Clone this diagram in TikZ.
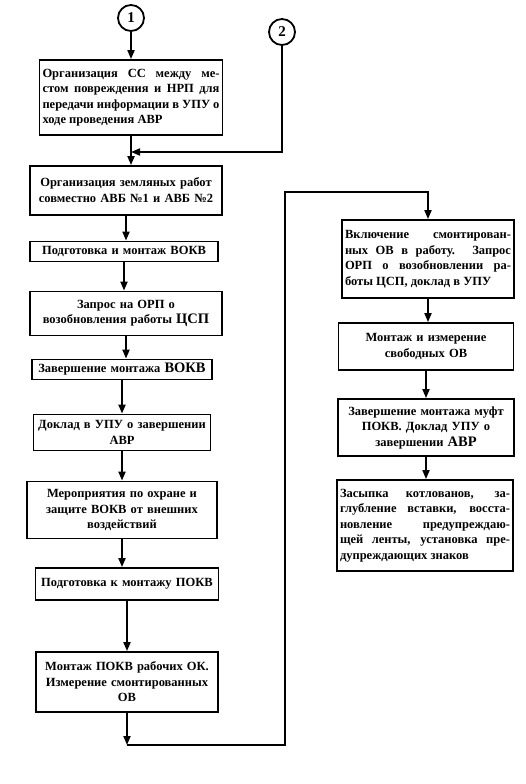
\documentclass[tikz,border=0pt]{standalone}
\usepackage{fontspec}
\setmainfont{Liberation Serif}
\usetikzlibrary{arrows.meta}
\newcommand{\bigw}[1]{{\fontsize{14.5}{15}\selectfont #1}}
\begin{document}
\begin{tikzpicture}[x=1pt,y=-1pt,
    blk/.style={draw,line width=1.8pt,inner sep=3pt,align=center,
        font=\bfseries\fontsize{12.5}{15.5}\selectfont},
    num/.style={draw,circle,line width=1.8pt,minimum size=26pt,inner sep=0pt,
        font=\bfseries\fontsize{15}{15}\selectfont},
    ln/.style={line width=1.8pt},
    arr/.style={line width=1.8pt,-{Triangle[width=7pt,length=9pt]}}]
    \useasboundingbox (0,0) rectangle (526,784);
    % left column
    \node [num] (c1) at(131,18) {1};
    \node [num] (c2) at(282,32) {2};
    \node [blk,text width=177pt,minimum height=75pt,align=justify] (b1) at(131,97.5) {Организация СС между ме-\linebreak стом повреждения и НРП для\linebreak передачи информации в УПУ о\linebreak ходе проведения АВР};
    \node [blk,text width=186pt,minimum height=49pt,text depth=16pt] (b2) at(126,190.5) {Организация земляных работ\\совместно АВБ №1 и АВБ №2};
    \node [blk,text width=182pt,minimum height=20pt] (b3) at(124,251.5) {Подготовка и монтаж ВОКВ};
    \node [blk,text width=186pt,minimum height=44pt] (b4) at(126,313.5) {Запрос на ОРП о\\возобновления работы \bigw{ЦСП}};
    \node [blk,text width=174pt,minimum height=20pt] (b5) at(122,369.5) {Завершение монтажа \bigw{ВОКВ}};
    \node [blk,text width=171pt,minimum height=36pt] (b6) at(122,432.5) {Доклад в УПУ о завершении\\АВР};
    \node [blk,text width=184pt,minimum height=57pt] (b7) at(122,510) {Мероприятия по охране и\\защите ВОКВ от внешних\\воздействий};
    \node [blk,text width=177pt,minimum height=32pt] (b8) at(127,584) {Подготовка к монтажу ПОКВ};
    \node [blk,text width=176pt,minimum height=60pt] (b9) at(127,682) {Монтаж ПОКВ рабочих ОК.\\Измерение смонтированных\\ОВ};
    % right column
    \node [blk,text width=166pt,minimum height=78pt,align=justify] (r1) at(428,259) {Включение смонтирован-\linebreak ных ОВ в работу. Запрос\linebreak ОРП о возобновлении ра-\linebreak боты ЦСП, доклад в УПУ};
    \node [blk,text width=169pt,minimum height=47pt] (r2) at(426,346.5) {Монтаж и измерение\\свободных ОВ};
    \node [blk,text width=170pt,minimum height=57pt] (r3) at(426,427.5) {Завершение монтажа муфт\\ПОКВ. Доклад УПУ о\\завершении \bigw{АВР}};
    \node [blk,text width=170pt,minimum height=91pt,align=justify] (r4) at(425,525.5) {Засыпка котлованов, за-\linebreak глубление вставки, восста-\linebreak новление предупреждаю-\linebreak щей ленты, установка пре-\linebreak дупреждающих знаков};
    \coordinate (j1) at(131,152);
    \coordinate (k1) at(127,745);
    \coordinate (k2) at(285,745);
    \coordinate (k3) at(285,192);
    % connectors
    \draw [arr] (c1) -- (b1);
    \draw [ln] (b1.south) -- (j1);
    \draw [arr] (c2.south) |- (j1);
    \draw [arr] (j1) -- (j1 |- b2.north);
    \draw [arr] (b2.south) -- (b2.south |- b3.north);
    \draw [arr] (b3.south) -- (b3.south |- b4.north);
    \draw [arr] (b4.south) -- (b4.south |- b5.north);
    \draw [arr] (b5.south) -- (b5.south |- b6.north);
    \draw [arr] (b6.south) -- (b6.south |- b7.north);
    \draw [arr] (b7.south) -- (b7.south |- b8.north);
    \draw [arr] (b8.south) -- (b8.south |- b9.north);
    \draw [arr] (b9.south) -- (k1);
    \draw [arr] (k1) -- (k2) -- (k3) -| (r1.north);
    \draw [arr] (r1.south) -- (r1.south |- r2.north);
    \draw [arr] (r2.south) -- (r2.south |- r3.north);
    \draw [arr] (r3.south) -- (r3.south |- r4.north);
\end{tikzpicture}
\end{document}
